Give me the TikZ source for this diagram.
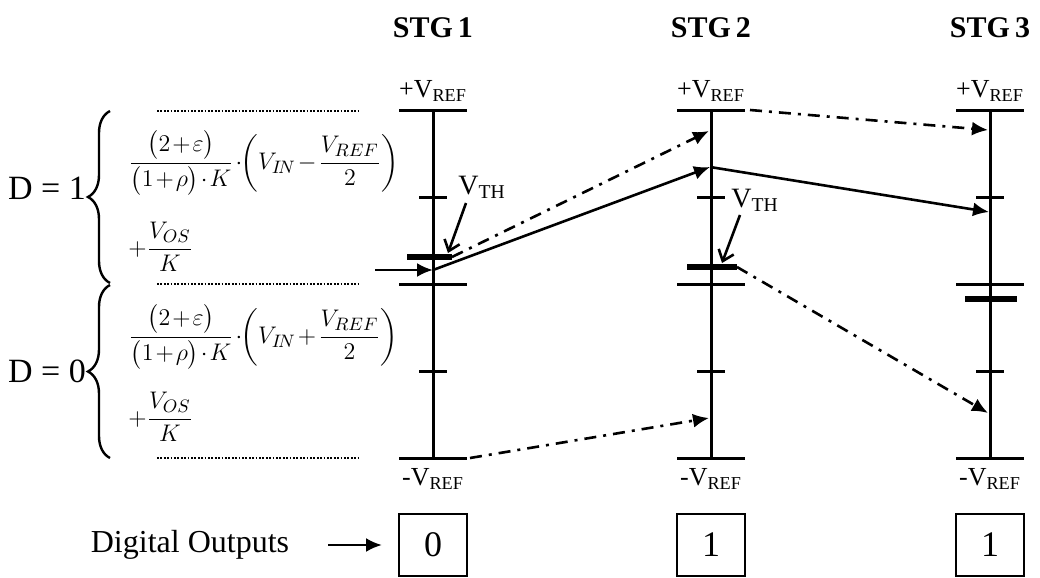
\documentclass[tikz,border=0pt]{standalone}
\usepackage{amsmath}
\usepackage{fontspec}
\setmainfont{Liberation Serif}
\usetikzlibrary{arrows.meta,decorations.pathreplacing}
\tikzstyle{stage}=[font=\bfseries\fontsize{15}{18}\selectfont]
\tikzstyle{vlabel}=[font=\fontsize{13}{15}\selectfont, inner sep=1pt]
\tikzstyle{thlabel}=[font=\fontsize{14}{16}\selectfont, inner sep=1pt]
\tikzstyle{dlabel}=[font=\fontsize{17}{20}\selectfont]
\tikzstyle{formula}=[font=\fontsize{12.5}{14}\selectfont, anchor=west, inner sep=0pt]
\tikzstyle{digit}=[draw, line width=1pt, minimum width=34pt, minimum height=31pt, font=\fontsize{18}{20}\selectfont]
\tikzstyle{rail}=[line width=1.5pt]
\tikzstyle{thresh}=[line width=3pt]
\tikzstyle{level}=[line width=1.2pt, dash pattern=on 0.9pt off 0.8pt]
\tikzstyle{trace}=[line width=1.3pt, -{Latex[length=8pt,width=7pt]}]
\tikzstyle{dashdot}=[trace, dash pattern=on 6pt off 3.5pt on 1.5pt off 3.5pt]
\tikzstyle{vthptr}=[line width=1.3pt, -{Straight Barb[length=5pt,width=8pt]}]
\tikzstyle{curly}=[line width=1.2pt, decorate, decoration={brace, amplitude=11pt}]

\begin{document}
\begin{tikzpicture}[x=0.5pt, y=-0.5pt]
	\useasboundingbox (0,0) rectangle (1040,578);
	% the three stages
	\foreach \x/\n/\d in {433/1/0, 711/2/1, 990/3/1} {
		\draw[rail] (\x,110) -- (\x,458);
		\draw[rail] (\x-34,110) -- (\x+34,110);
		\draw[rail] (\x-34,458) -- (\x+34,458);
		\draw[rail] (\x-34,284) -- (\x+34,284);
		\draw[rail] (\x-14,197) -- (\x+14,197);
		\draw[rail] (\x-14,371) -- (\x+14,371);
		\node[stage] (stg\n) at (\x,28) {STG\,\n};
		\node[vlabel] (pref\n) at (\x,91) {+V$_{\text{REF}}$};
		\node[vlabel] (nref\n) at (\x,479) {-V$_{\text{REF}}$};
		\node[digit] (dout\n) at (\x,545) {\d};
	}
	% comparator thresholds
	\draw[thresh] (407,257) -- (452,257);
	\draw[thresh] (687,267) -- (737,267);
	\draw[thresh] (965,299) -- (1017,299);
	% left side: ranges and residues
	\draw[level] (157,111) -- (358,111);
	\draw[level] (157,284) -- (358,284);
	\draw[level] (157,458) -- (358,458);
	\draw[curly] (110,283) -- (110,111);
	\draw[curly] (110,458) -- (110,285);
	\node[dlabel] (d1) at (47,188) {D = 1};
	\node[dlabel] (d0) at (47,371) {D = 0};
	\node[formula] (res1) at (128,163) {\medmuskip=1.5mu$\displaystyle \frac{\big(2+\varepsilon\big)}{\big(1+\rho\big)\cdot K}\cdot\!\left(V_{I\!N}-\frac{V_{REF}}{2}\right)$};
	\node[formula] (os1) at (128,247) {\medmuskip=1.5mu$\displaystyle +\frac{V_{OS}}{K}$};
	\node[formula] (res0) at (128,337) {\medmuskip=1.5mu$\displaystyle \frac{\big(2+\varepsilon\big)}{\big(1+\rho\big)\cdot K}\cdot\!\left(V_{I\!N}+\frac{V_{REF}}{2}\right)$};
	\node[formula] (os0) at (128,417) {\medmuskip=1.5mu$\displaystyle +\frac{V_{OS}}{K}$};
	% residue paths
	\coordinate (in0) at (375,270);
	\coordinate (a1) at (433,270);
	\coordinate (a2) at (710,167);
	\coordinate (a3) at (989,212);
	\coordinate (b1) at (452,257);
	\coordinate (b2) at (709,131);
	\coordinate (c2) at (750,110);
	\coordinate (c3) at (988,130);
	\coordinate (e2) at (737,267);
	\coordinate (e3) at (988,413);
	\coordinate (g1) at (470,458);
	\coordinate (g2) at (709,418);
	\draw[trace] (in0) -- (a1);
	\draw[trace] (a1) -- (a2);
	\draw[trace] (a2) -- (a3);
	\draw[dashdot] (b1) -- (b2);
	\draw[dashdot] (c2) -- (c3);
	\draw[dashdot] (e2) -- (e3);
	\draw[dashdot] (g1) -- (g2);
	% thresholds labels
	\node[thlabel] (vth1) at (482,187) {V$_{\text{TH}}$};
	\node[thlabel] (vth2) at (755,200) {V$_{\text{TH}}$};
	\coordinate (t1) at (448,253);
	\coordinate (t2) at (722,263);
	\draw[vthptr] (466,203) -- (t1);
	\draw[vthptr] (740,215) -- (t2);
	% outputs
	\node[dlabel, font=\fontsize{16}{19}\selectfont] (dig) at (190,545) {Digital Outputs};
	\draw[trace] ([xshift=16pt]dig.east) -- ([xshift=-8pt]dout1.west);
\end{tikzpicture}
\end{document}
